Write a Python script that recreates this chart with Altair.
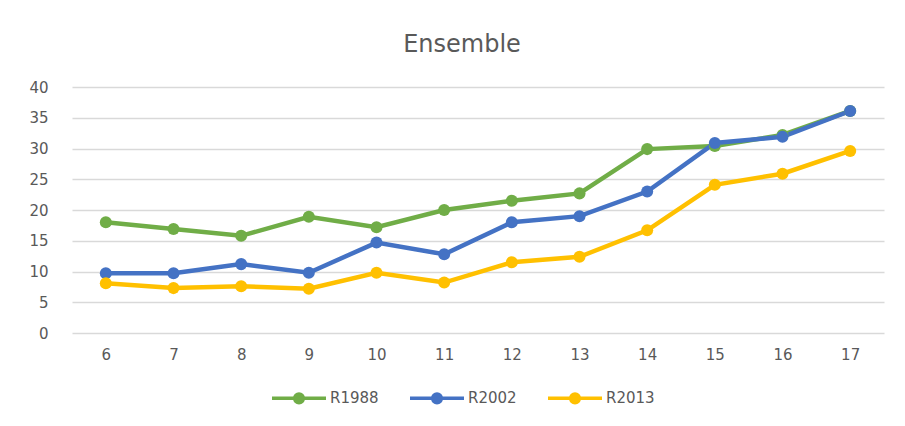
import altair as alt
import pandas as pd

ages = [6, 7, 8, 9, 10, 11, 12, 13, 14, 15, 16, 17]
r1988 = [18.0, 16.9, 15.8, 18.9, 17.2, 20.0, 21.5, 22.7, 29.9, 30.4, 32.2, 36.1]
r2002 = [9.7, 9.7, 11.2, 9.8, 14.7, 12.8, 18.0, 19.0, 23.0, 30.9, 31.9, 36.1]
r2013 = [8.1, 7.3, 7.6, 7.2, 9.8, 8.2, 11.5, 12.4, 16.7, 24.1, 25.9, 29.6]
series = ["R1988", "R2002", "R2013"]
colors = ["#70AD47", "#4472C4", "#FFC000"]

rows = []
for name, vals in zip(series, [r1988, r2002, r2013]):
    for a, v in zip(ages, vals):
        rows.append({"age": a, "value": v, "serie": name})
df = pd.DataFrame(rows)

# legend symbol: line with a filled dot (concentric rings to fill the dot)
sym = ("M-1,0L1,0"
       " M-0.16,0A0.16,0.16 0 1,1 0.16,0A0.16,0.16 0 1,1 -0.16,0Z"
       " M-0.1,0A0.1,0.1 0 1,1 0.1,0A0.1,0.1 0 1,1 -0.1,0Z"
       " M-0.04,0A0.04,0.04 0 1,1 0.04,0A0.04,0.04 0 1,1 -0.04,0Z")

color = alt.Color(
    "serie:N",
    scale=alt.Scale(domain=series, range=colors),
    legend=alt.Legend(
        title=None, orient="none", direction="horizontal",
        legendX=198, legendY=282,
        symbolType=sym, symbolSize=2916, symbolStrokeWidth=3.5,
        labelFontSize=15, labelColor="#595959", labelFont="DejaVu Sans",
        columnPadding=24, labelOffset=2,
    ),
)

x = alt.X("age:O", sort=ages,
          scale=alt.Scale(paddingInner=0, paddingOuter=0.5),
          axis=alt.Axis(title=None, labelAngle=0, domain=False, ticks=False,
                        grid=False, labelPadding=14))
y = alt.Y("value:Q", scale=alt.Scale(domain=[0, 40], nice=False, zero=True),
          axis=alt.Axis(title=None, values=[0, 5, 10, 15, 20, 25, 30, 35, 40],
                        domain=False, ticks=False, labelPadding=24,
                        gridColor="#D9D9D9", gridWidth=1.5))

lines = alt.Chart(df).mark_line(strokeWidth=4.5).encode(x=x, y=y, color=color)
points = alt.Chart(df).mark_point(filled=True, size=145, opacity=1).encode(
    x=x, y=y, color=alt.Color("serie:N", scale=alt.Scale(domain=series, range=colors), legend=None))

chart = (
    alt.layer(lines, points)
    .properties(
        width=812, height=246,
        background="white",
        autosize=alt.AutoSizeParams(type="none"),
        padding={"left": 64, "top": 79, "right": 13, "bottom": 85},
        title=alt.TitleParams("Ensemble", fontSize=24, font="DejaVu Sans",
                              fontWeight="normal", color="#595959",
                              anchor="middle", offset=23, dx=-16),
    )
    .configure_view(stroke=None)
    .configure_axis(labelFont="DejaVu Sans", labelFontSize=15, labelColor="#595959")
)

chart.save("out.html", embed_options={"renderer": "svg", "actions": False})
